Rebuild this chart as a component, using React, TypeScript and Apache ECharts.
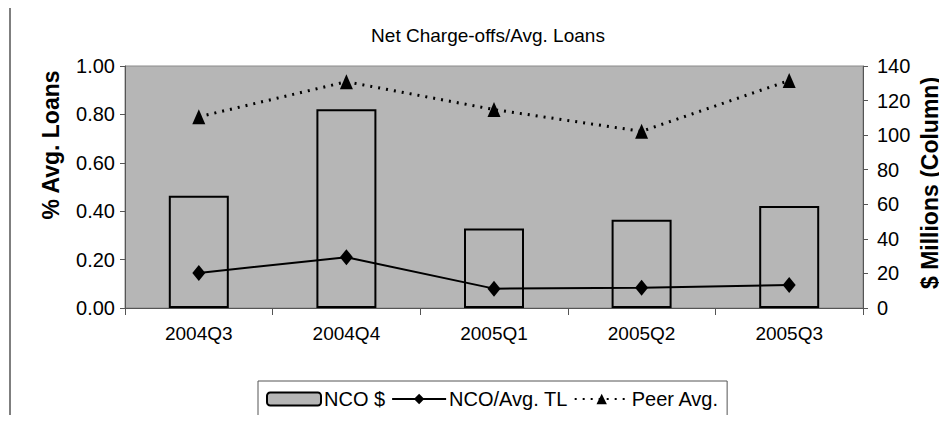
import React, { useEffect, useRef } from "react";
import * as echarts from "echarts";

const quarters = ["2004Q3", "2004Q4", "2005Q1", "2005Q2", "2005Q3"];
const ncoDollars = [65, 115, 46, 51, 59];
const ncoPctLoans = [0.145, 0.21, 0.08, 0.084, 0.095];
const peerAvgPct = [0.79, 0.935, 0.82, 0.73, 0.94];
const leftTicks = [0, 0.2, 0.4, 0.6, 0.8, 1.0];

const SANS = "Liberation Sans";
const PLOT_GREY = "#b6b6b6";

export default function App() {
  const ref = useRef<HTMLDivElement>(null);

  useEffect(() => {
    if (!ref.current) return;
    const chart = echarts.init(ref.current, undefined, { renderer: "svg" });
    chart.setOption({
      animation: false,
      backgroundColor: "#ffffff",
      title: {
        text: "Net Charge-offs/Avg. Loans",
        left: 483,
        top: 21,
        textAlign: "center",
        textStyle: { fontFamily: SANS, fontSize: 19, fontWeight: "normal", color: "#000" },
      },
      legend: {
        left: 258,
        top: 381,
        itemWidth: 54,
        itemHeight: 13,
        itemGap: 6,
        padding: [8, 8, 12, 8],
        borderColor: "#555",
        borderWidth: 1,
        textStyle: { fontFamily: SANS, fontSize: 20, color: "#000", padding: [0, 0, 0, -2] },
        data: ["NCO $", "NCO/Avg. TL", "Peer Avg."],
      },
      grid: {
        left: 125,
        right: 84,
        top: 66,
        bottom: 115,
        show: true,
        backgroundColor: PLOT_GREY,
        borderColor: "#8a8a8a",
        borderWidth: 1,
      },
      xAxis: {
        type: "category",
        data: quarters,
        boundaryGap: true,
        axisLine: { lineStyle: { color: "#555", width: 1 } },
        axisTick: { show: true, length: 7, lineStyle: { color: "#555" } },
        axisLabel: { fontFamily: SANS, fontSize: 19, color: "#000", margin: 16 },
      },
      yAxis: [
        {
          type: "value",
          min: 0,
          max: 1,
          interval: 0.2,
          position: "left",
          axisLine: { show: true, lineStyle: { color: "#555" } },
          axisTick: { show: true, length: 5, lineStyle: { color: "#555" } },
          splitLine: { show: false },
          axisLabel: {
            fontFamily: SANS,
            fontSize: 20,
            color: "#000",
            margin: 10,
            formatter: (v: number) => (leftTicks.includes(Math.round(v * 10) / 10) ? v.toFixed(2) : ""),
          },
        },
        {
          type: "value",
          min: 0,
          max: 140,
          interval: 20,
          position: "right",
          axisLine: { show: true, lineStyle: { color: "#555" } },
          axisTick: { show: true, length: 5, lineStyle: { color: "#555" } },
          splitLine: { show: false },
          axisLabel: { fontFamily: SANS, fontSize: 20, color: "#000", margin: 14 },
        },
      ],
      graphic: [
        {
          type: "polyline",
          silent: true,
          shape: { points: [[10, 440], [10, 3.5], [913, 3.5]] },
          style: { stroke: "#555", lineWidth: 1.5, fill: "none" },
        },
        {
          type: "text",
          x: 51,
          y: 145,
          rotation: Math.PI / 2,
          style: {
            text: "% Avg. Loans",
            fontFamily: SANS,
            fontWeight: "bold",
            fontSize: 23,
            fill: "#000",
            align: "center",
            verticalAlign: "middle",
          },
        },
        {
          type: "text",
          x: 930,
          y: 183,
          rotation: Math.PI / 2,
          style: {
            text: "$ Millions (Column)",
            fontFamily: SANS,
            fontWeight: "bold",
            fontSize: 23,
            fill: "#000",
            align: "center",
            verticalAlign: "middle",
          },
        },
      ],
      series: [
        {
          name: "NCO $",
          type: "bar",
          yAxisIndex: 1,
          data: ncoDollars,
          barWidth: 60,
          itemStyle: { color: PLOT_GREY, borderColor: "#000", borderWidth: 2 },
          z: 2,
        },
        {
          name: "NCO/Avg. TL",
          type: "line",
          yAxisIndex: 0,
          data: ncoPctLoans,
          symbol: "diamond",
          symbolSize: [13, 16],
          lineStyle: { color: "#000", width: 2 },
          itemStyle: { color: "#000" },
          z: 4,
        },
        {
          name: "Peer Avg.",
          type: "line",
          yAxisIndex: 0,
          data: peerAvgPct,
          symbol: "triangle",
          symbolSize: [13, 15],
          lineStyle: { color: "#000", width: 3, type: [2, 6] },
          itemStyle: { color: "#000" },
          z: 4,
        },
      ],
    });
    return () => chart.dispose();
  }, []);

  return <div ref={ref} style={{ width: 947, height: 423, margin: -8 }} />;
}
